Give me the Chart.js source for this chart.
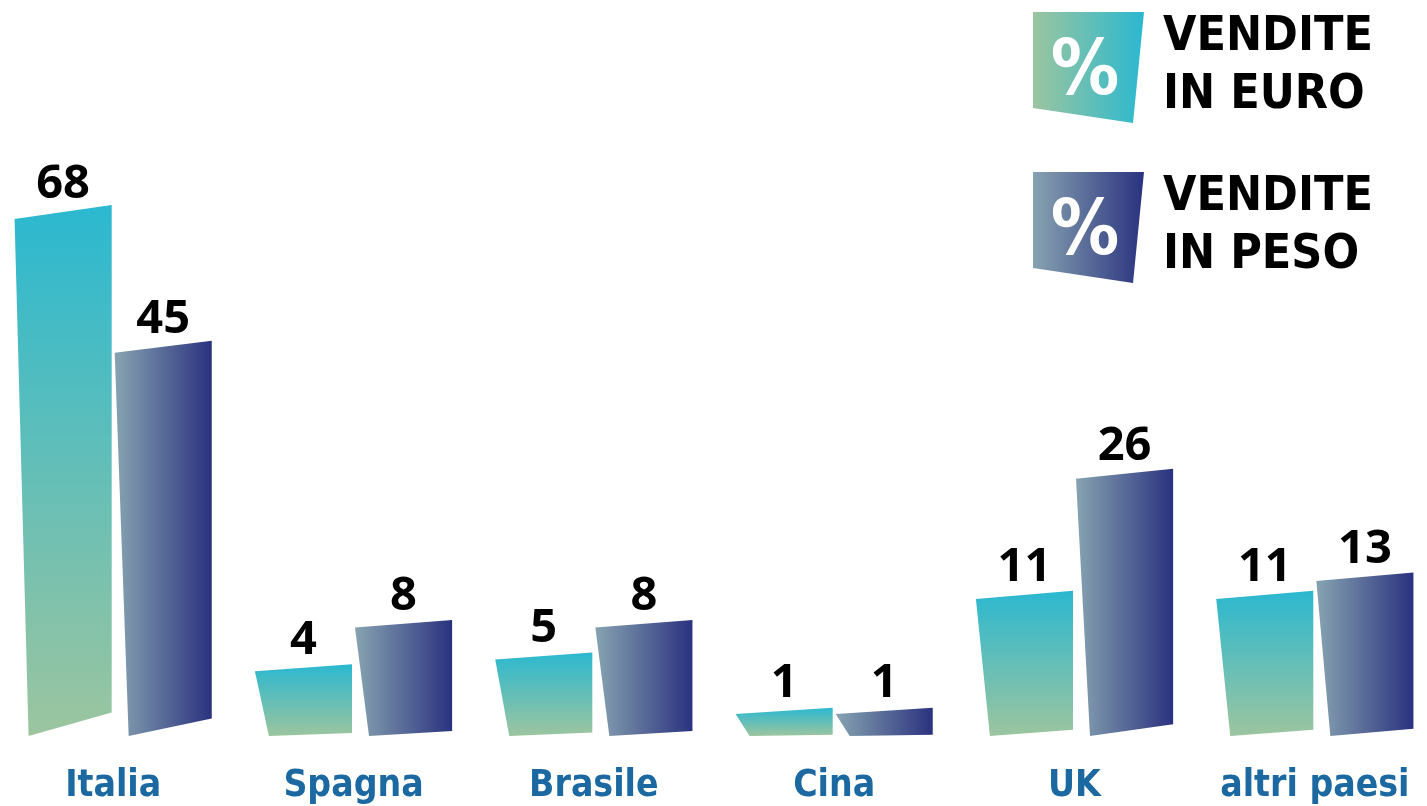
<!DOCTYPE html>
<html lang="it">
<head>
<meta charset="utf-8">
<title>Vendite per paese</title>
<script src="https://cdn.jsdelivr.net/npm/chart.js@4.4.1/dist/chart.umd.min.js"></script>
<style>
    html, body { margin: 0; padding: 0; background: #fff; overflow: hidden; }
    #contenitore { position: absolute; left: -7px; top: 0; width: 1442px; height: 806px; }
</style>
</head>
<body>
<div id="contenitore"><canvas id="graficoVendite"></canvas></div>
<script>
// Dati
var categorie = ["Italia", "Spagna", "Brasile", "Cina", "UK", "altri paesi"];
var venditeEuro = [68, 4, 5, 1, 11, 11];
var venditePeso = [45, 8, 8, 1, 26, 13];
var etichetteSerie = ["VENDITE IN EURO", "VENDITE IN PESO"];

// Le altezze dell'originale non sono lineari: scala a potenza (v^0.72)
var ESPONENTE = 0.72;

class ScalaPotenza extends Chart.LinearScale {
    getPixelForValue(value) {
        if (value === null || isNaN(value)) return NaN;
        var d = Math.max(0, (value - this.min) / (this.max - this.min));
        return this.getPixelForDecimal(Math.pow(d, ESPONENTE));
    }
    getValueForPixel(pixel) {
        var d = Math.pow(Math.max(0, this.getDecimalForPixel(pixel)), 1 / ESPONENTE);
        return this.min + d * (this.max - this.min);
    }
}
ScalaPotenza.id = "potenza";
ScalaPotenza.defaults = Chart.LinearScale.defaults;
Chart.register(ScalaPotenza);

function gradienteEuroVerticale(ctx, y0, y1) {
    var g = ctx.createLinearGradient(0, y0, 0, y1);
    g.addColorStop(0, "#2bb8d0");
    g.addColorStop(1, "#9cc59f");
    return g;
}

function gradientePeso(ctx, x0, x1) {
    var g = ctx.createLinearGradient(x0, 0, x1, 0);
    g.addColorStop(0, "#87a3b1");
    g.addColorStop(1, "#2a327f");
    return g;
}

// Disegna le barre inclinate e i valori sopra
var pluginBarre = {
    id: "barreInclinate",
    afterDatasetsDraw: function (chart) {
        var ctx = chart.ctx;
        ctx.save();
        chart.data.datasets.forEach(function (ds, i) {
            var meta = chart.getDatasetMeta(i);
            meta.data.forEach(function (bar, j) {
                var p = bar.getProps(["x", "y", "base", "width"], true);
                var sx = p.x - p.width / 2;
                var dx = p.x + p.width / 2;
                var h = p.base - p.y;
                var salita = 6 + h * 0.015;
                var caduta = h * 0.045;

                ctx.beginPath();
                ctx.moveTo(sx, p.y + salita / 2);
                ctx.lineTo(dx, p.y - salita / 2);
                ctx.lineTo(dx, p.base - caduta);
                ctx.lineTo(sx + 14, p.base);
                ctx.closePath();
                if (i === 0) {
                    ctx.fillStyle = gradienteEuroVerticale(ctx, p.y - salita / 2, p.base);
                } else {
                    ctx.fillStyle = gradientePeso(ctx, sx, dx);
                }
                ctx.fill();

                ctx.fillStyle = "#000";
                ctx.font = "700 47px 'Open Sans'";
                ctx.textAlign = "center";
                ctx.textBaseline = "alphabetic";
                ctx.fillText(String(ds.data[j]), p.x, p.y - 14);
            });
        });
        ctx.restore();
    }
};

// Legenda con i quadrati "%" in alto a destra
var pluginLegenda = {
    id: "legendaPercento",
    afterDraw: function (chart) {
        var ctx = chart.ctx;
        var x0 = chart.width - 402;
        ctx.save();
        [12, 172].forEach(function (y0, i) {
            ctx.beginPath();
            ctx.moveTo(x0, y0);
            ctx.lineTo(x0 + 111, y0);
            ctx.lineTo(x0 + 100, y0 + 111);
            ctx.lineTo(x0, y0 + 96);
            ctx.closePath();
            var g = ctx.createLinearGradient(x0, 0, x0 + 111, 0);
            if (i === 0) {
                g.addColorStop(0, "#9cc59f");
                g.addColorStop(1, "#2bb8d0");
            } else {
                g.addColorStop(0, "#87a3b1");
                g.addColorStop(1, "#2a327f");
            }
            ctx.fillStyle = g;
            ctx.fill();

            ctx.fillStyle = "#fff";
            ctx.font = "700 76px 'DejaVu Sans Condensed', 'DejaVu Sans'";
            ctx.textAlign = "center";
            ctx.textBaseline = "alphabetic";
            ctx.fillText("%", x0 + 52, y0 + 82);

            var righe = etichetteSerie[i].split(" ");
            var riga1 = righe[0];
            var riga2 = righe.slice(1).join(" ");
            ctx.fillStyle = "#000";
            ctx.font = "700 48px 'DejaVu Sans Condensed', 'DejaVu Sans'";
            ctx.textAlign = "left";
            ctx.fillText(riga1, x0 + 130, y0 + 38);
            ctx.fillText(riga2, x0 + 130, y0 + 96);
        });
        ctx.restore();
    }
};

var ctx = document.getElementById("graficoVendite").getContext("2d");
var grafico = new Chart(ctx, {
    type: "bar",
    data: {
        labels: categorie,
        datasets: [
            {
                label: etichetteSerie[0],
                data: venditeEuro,
                backgroundColor: "rgba(0,0,0,0)",
                categoryPercentage: 0.833,
                barPercentage: 0.97
            },
            {
                label: etichetteSerie[1],
                data: venditePeso,
                backgroundColor: "rgba(0,0,0,0)",
                categoryPercentage: 0.833,
                barPercentage: 0.97
            }
        ]
    },
    options: {
        responsive: true,
        maintainAspectRatio: false,
        animation: false,
        layout: { padding: 0 },
        plugins: {
            legend: { display: false },
            tooltip: { enabled: false }
        },
        scales: {
            x: {
                grid: { display: false },
                border: { display: false },
                afterFit: function (scale) {
                    scale.height = 70;
                },
                ticks: {
                    color: "#1b69a0",
                    padding: 20,
                    font: { family: "'DejaVu Sans Condensed', 'DejaVu Sans'", size: 37, weight: "bold" }
                }
            },
            y: {
                type: "potenza",
                display: false,
                min: 0,
                max: 109
            }
        }
    },
    plugins: [pluginBarre, pluginLegenda]
});
</script>
</body>
</html>
